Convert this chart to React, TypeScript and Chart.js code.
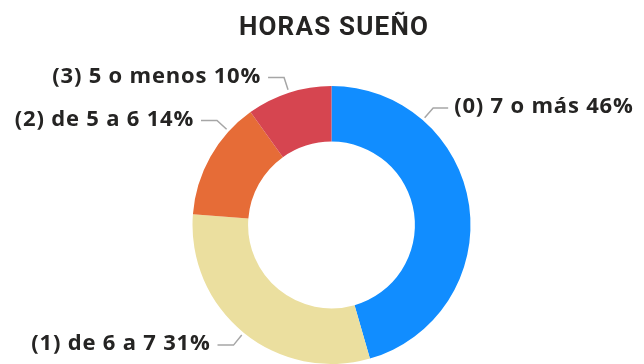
import React, { useEffect, useRef } from "react";
import { Chart, registerables } from "chart.js";

Chart.register(...registerables);

// Sleep-hours survey: share of respondents per group
const categories = ["(0) 7 o más", "(1) de 6 a 7", "(2) de 5 a 6", "(3) 5 o menos"];
const percents = [46, 31, 14, 10];
const colors = ["#118DFF", "#EBDF9F", "#E66C37", "#D64550"];
// where along each slice the leader line attaches (0 = slice start, 1 = slice end)
const anchorFractions = [0.25, 0.5, 0.76, 0.5];

const TITLE = "HORAS SUEÑO";
const TEXT_COLOR = "#252423";
const LINE_COLOR = "#A6A6A6";

const labelPlugin = {
  id: "outsideLabels",
  afterDatasetsDraw(chart: any) {
    const ctx = chart.ctx as any;
    ctx.save();

    // title
    ctx.fillStyle = TEXT_COLOR;
    ctx.font = "bold 26px Roboto";
    ctx.letterSpacing = "1.2px";
    ctx.textAlign = "center";
    ctx.textBaseline = "alphabetic";
    ctx.fillText(TITLE, 334, 35);

    const meta = chart.getDatasetMeta(0);
    meta.data.forEach((arc: any, i: number) => {
      const { x, y, startAngle, endAngle, outerRadius } = arc.getProps(
        ["x", "y", "startAngle", "endAngle", "outerRadius"],
        true
      );
      const a = startAngle + (endAngle - startAngle) * anchorFractions[i];
      const c = Math.cos(a);
      const s = Math.sin(a);
      const x0 = x + (outerRadius + 3) * c;
      const y0 = y + (outerRadius + 3) * s;
      const x1 = x + (outerRadius + 16) * c;
      const y1 = y + (outerRadius + 16) * s;
      const right = c >= 0;
      const x2 = x1 + (right ? 15 : -16);

      ctx.strokeStyle = LINE_COLOR;
      ctx.lineWidth = 1.5;
      ctx.beginPath();
      ctx.moveTo(x0, y0);
      ctx.lineTo(x1, y1);
      ctx.lineTo(x2, y1);
      ctx.stroke();

      ctx.fillStyle = TEXT_COLOR;
      ctx.font = "bold 22px 'Open Sans'";
      ctx.letterSpacing = "0.8px";
      ctx.textAlign = right ? "left" : "right";
      ctx.textBaseline = "middle";
      ctx.fillText(
        `${categories[i]} ${percents[i]}%`,
        x2 + (right ? 6 : -7),
        y1 - 1
      );
    });
    ctx.restore();
  },
};

export default function App() {
  const ref = useRef<HTMLCanvasElement | null>(null);

  useEffect(() => {
    if (!ref.current) return;
    const chart = new Chart(ref.current, {
      type: "doughnut",
      data: {
        labels: categories,
        datasets: [
          {
            data: percents,
            backgroundColor: colors,
            borderWidth: 0,
          },
        ],
      },
      options: {
        responsive: false,
        animation: false,
        cutout: "60%",
        rotation: 0,
        layout: { padding: { top: 86, bottom: 0, left: 19, right: 0 } },
        plugins: {
          legend: { display: false },
          tooltip: { enabled: false },
          title: { display: false },
        },
      },
      plugins: [labelPlugin],
    });
    return () => chart.destroy();
  }, []);

  return (
    <div style={{ position: "fixed", left: 0, top: 0, width: 644, height: 364, background: "#fff" }}>
      <canvas ref={ref} width={644} height={364} />
    </div>
  );
}
